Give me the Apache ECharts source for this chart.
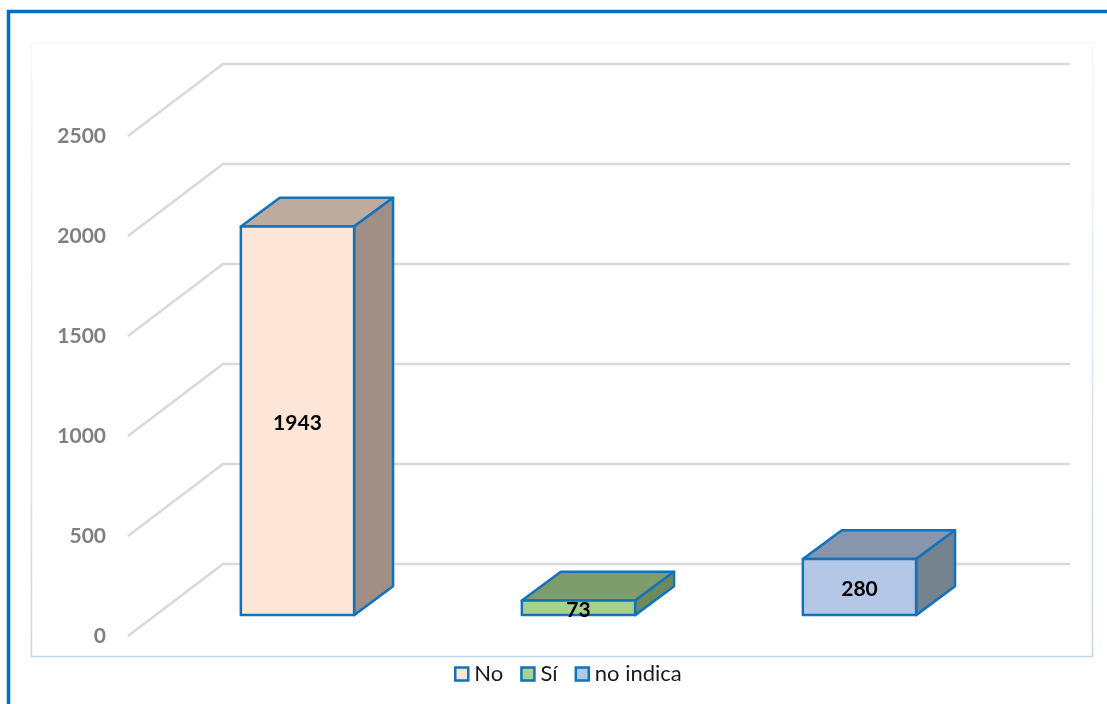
<!DOCTYPE html>
<html>
<head>
<meta charset="utf-8">
<title>Chart</title>
<style>
    html, body { margin: 0; padding: 0; background: #fff; }
    #chart { width: 1107px; height: 704px; }
</style>
<script src="https://cdn.jsdelivr.net/npm/echarts@6/dist/echarts.min.js"></script>
</head>
<body>
<div id="chart"></div>
<script>
var categories = ['No', 'Sí', 'no indica'];
var values = [1943, 73, 280];
var tickValues = [0, 500, 1000, 1500, 2000, 2500];

var frontColors = ['#fde5d8', '#a9d18e', '#b4c7e7'];
var topColors = ['#bdaba0', '#7f9d6a', '#8796ad'];
var sideColors = ['#a08f85', '#6e8a5c', '#75838f'];
var edgeColor = '#1273bd';

// depth of the floor in px, the bars sit part way into it
var depthX = 95;
var depthY = 72;
var barStart = 0.305;
var barDepth = 0.41;

var chartInstance = echarts.init(document.getElementById('chart'));

function renderWall(params, api) {
    var box = params.coordSys;
    var y = api.coord([0, api.value(1)])[1];
    return {
        type: 'polyline',
        shape: {
            points: [
                [box.x, y],
                [box.x + depthX, y - depthY],
                [box.x + box.width + depthX + 4, y - depthY]
            ]
        },
        style: { stroke: '#d9d9d9', lineWidth: 2.5, fill: null }
    };
}

function renderBar(params, api) {
    var idx = api.value(0);
    var top = api.coord([idx, api.value(1)]);
    var base = api.coord([idx, 0]);
    var width = api.size([1, 0])[0] * 0.403;
    var x0 = top[0] - width / 2 + depthX * barStart;
    var x1 = x0 + width;
    var y0 = top[1] - depthY * 0.29;
    var y1 = base[1] - depthY * 0.29;
    var dx = depthX * barDepth;
    var dy = depthY * 0.4;
    function face(points, fill) {
        return {
            type: 'polygon',
            shape: { points: points },
            style: { fill: fill, stroke: edgeColor, lineWidth: 2.5, lineJoin: 'round' }
        };
    }
    return {
        type: 'group',
        children: [
            face([[x0, y0], [x0 + dx, y0 - dy], [x1 + dx, y0 - dy], [x1, y0]], topColors[idx]),
            face([[x1, y0], [x1 + dx, y0 - dy], [x1 + dx, y1 - dy], [x1, y1]], sideColors[idx]),
            face([[x0, y0], [x1, y0], [x1, y1], [x0, y1]], frontColors[idx]),
            {
                type: 'text',
                style: {
                    text: String(api.value(1)),
                    x: (x0 + x1) / 2,
                    y: (y0 + y1) / 2 + 2,
                    align: 'center',
                    verticalAlign: 'middle',
                    fill: '#000',
                    font: 'bold 21px Lato'
                }
            }
        ]
    };
}

var seriesList = [{
    type: 'custom',
    name: 'wall',
    renderItem: renderWall,
    silent: true,
    z: 1,
    encode: { x: 0, y: 1 },
    data: tickValues.map(function (v) { return [0, v]; })
}];

for (var i = 0; i < categories.length; i++) {
    seriesList.push({
        type: 'custom',
        name: categories[i],
        renderItem: renderBar,
        z: 2,
        encode: { x: 0, y: 1 },
        itemStyle: { color: frontColors[i], borderColor: edgeColor, borderWidth: 2 },
        data: [[i, values[i]]]
    });
}

chartInstance.setOption({
    animation: false,
    backgroundColor: '#fff',
    textStyle: { fontFamily: 'Lato' },
    grid: { left: 128, top: 136, width: 843, height: 500 },
    legend: {
        data: categories.map(function (name, i) {
            return { name: name, icon: 'rect', itemStyle: { color: frontColors[i], borderColor: edgeColor, borderWidth: 2.5 } };
        }),
        top: 658,
        left: 449,
        itemWidth: 13,
        itemHeight: 13,
        itemGap: 17,
        selectedMode: false,
        textStyle: { fontFamily: 'Lato', fontSize: 22, color: '#1a1a1a', padding: [0, 0, 0, 1] }
    },
    xAxis: {
        type: 'category',
        data: categories,
        axisLine: { show: false },
        axisTick: { show: false },
        axisLabel: { show: false }
    },
    yAxis: {
        type: 'value',
        min: 0,
        max: 2500,
        interval: 500,
        axisLine: { show: false },
        axisTick: { show: false },
        splitLine: { show: false },
        axisLabel: {
            margin: 22,
            color: '#7f7f7f',
            fontFamily: 'Lato',
            fontWeight: 'bold',
            fontSize: 21,
            padding: [4, 0, 0, 0],
            formatter: function (value) { return String(value); }
        }
    },
    graphic: [
        {
            type: 'rect',
            silent: true,
            z: -1,
            shape: { x: 31.5, y: 43.5, width: 1061, height: 613 },
            style: {
                fill: '#fff',
                lineWidth: 1.5,
                stroke: {
                    type: 'linear', x: 0, y: 0, x2: 0, y2: 1,
                    colorStops: [
                        { offset: 0, color: '#f6f7fc' },
                        { offset: 1, color: '#c5d5ee' }
                    ]
                }
            }
        },
        {
            type: 'polyline',
            silent: true,
            z: -1,
            shape: { points: [[8.5, 704], [8.5, 11.5], [1107, 11.5]] },
            style: { stroke: '#0070c0', lineWidth: 3.5, fill: null }
        }
    ],
    series: seriesList
});
</script>
</body>
</html>
